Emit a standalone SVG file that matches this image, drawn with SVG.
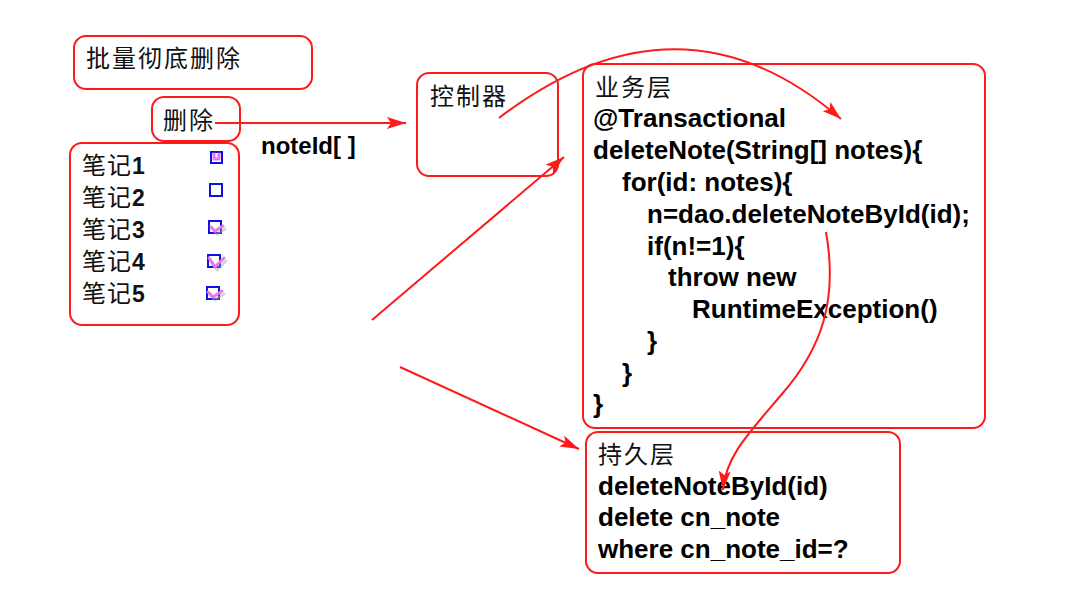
<svg xmlns="http://www.w3.org/2000/svg" width="1073" height="591" viewBox="0 0 1073 591">
<style>
.box{fill:none;stroke:#ff1a1a;stroke-width:2}
.cn{font-family:"Noto Sans CJK SC","Noto Sans",sans-serif;font-size:24px;fill:#111;letter-spacing:2px}
.code{font-family:"Liberation Sans",Arial,sans-serif;font-size:26px;font-weight:bold;fill:#000}
.num{font-family:"Liberation Sans",Arial,sans-serif;font-size:23px;font-weight:bold;fill:#111;letter-spacing:0}
.cb{fill:#fff;stroke:#1010e0;stroke-width:2}
.chk{fill:none;stroke:#e87ae8;stroke-width:3;stroke-linecap:round;stroke-linejoin:round}
.shd{fill:none;stroke:#aaa;stroke-width:3;stroke-linecap:round;stroke-linejoin:round;opacity:0.5}
.conn{fill:none;stroke:#ff1a1a;stroke-width:2}
</style>
<defs>
<marker id="ah" markerUnits="userSpaceOnUse" markerWidth="20" markerHeight="12" refX="19" refY="6" orient="auto">
<path d="M0,0 L19,6 L0,12 L4,6 z" fill="#ff1a1a"/>
</marker>
</defs>
<rect width="1073" height="591" fill="#fff"/>

<g id="title">
<rect class="box" x="74" y="36" width="238" height="53" rx="12"/>
<text class="cn" x="86" y="67">批量彻底删除</text>
</g>

<g id="delete-btn">
<rect class="box" x="152" y="97" width="88" height="44" rx="12"/>
<text class="cn" x="163" y="129">删除</text>
</g>

<g id="notes-list">
<rect class="box" x="70" y="143" width="169" height="182" rx="12"/>
<text class="cn" x="82" y="174" style="letter-spacing:1px">笔记<tspan class="num">1</tspan></text>
<text class="cn" x="82" y="206" style="letter-spacing:1px">笔记<tspan class="num">2</tspan></text>
<text class="cn" x="82" y="238" style="letter-spacing:1px">笔记<tspan class="num">3</tspan></text>
<text class="cn" x="82" y="270" style="letter-spacing:1px">笔记<tspan class="num">4</tspan></text>
<text class="cn" x="82" y="302" style="letter-spacing:1px">笔记<tspan class="num">5</tspan></text>
<rect class="cb" x="211" y="152" width="11" height="11"/>
<path class="chk" d="M214,154 L214,159 L219,159 L219,154"/>
<rect class="cb" x="210" y="184" width="12" height="12"/>
<rect class="cb" x="209" y="221" width="12" height="12"/>
<path class="shd" d="M213,230 L217,234 L225,229"/>
<path class="chk" d="M211,227 L215,231 L223,226"/>
<rect class="cb" x="208" y="255" width="12" height="12"/>
<path class="shd" d="M211,261 L217,270 L226,261"/>
<path class="chk" d="M209,258 L215,267 L224,258"/>
<rect class="cb" x="207" y="287" width="12" height="12"/>
<path class="shd" d="M210,295 L215,300 L224,294"/>
<path class="chk" d="M208,292 L213,297 L222,291"/>
</g>

<g id="noteid-label">
<text class="code" x="261" y="154" style="font-size:24px">noteId[ ]</text>
</g>

<g id="controller">
<rect class="box" x="417" y="73" width="141" height="103" rx="12"/>
<text class="cn" x="430" y="105">控制器</text>
</g>

<g id="service">
<rect class="box" x="583" y="64" width="402" height="364" rx="12"/>
<text class="cn" x="595" y="96">业务层</text>
<text class="code" x="593" y="127">@Transactional</text>
<text class="code" x="593" y="159">deleteNote(String[] notes){</text>
<text class="code" x="622" y="191">for(id: notes){</text>
<text class="code" x="647" y="223">n=dao.deleteNoteById(id);</text>
<text class="code" x="647" y="255">if(n!=1){</text>
<text class="code" x="668" y="286">throw new</text>
<text class="code" x="692" y="318">RuntimeException()</text>
<text class="code" x="647" y="350">}</text>
<text class="code" x="622" y="382">}</text>
<text class="code" x="593" y="413">}</text>
</g>

<g id="dao">
<rect class="box" x="586" y="432" width="314" height="141" rx="12"/>
<text class="cn" x="598" y="463">持久层</text>
<text class="code" x="598" y="495">deleteNoteById(id)</text>
<text class="code" x="598" y="526">delete cn_note</text>
<text class="code" x="598" y="558">where cn_note_id=?</text>
</g>

<g id="connectors">
<path class="conn" d="M215,123 L406,123" marker-end="url(#ah)"/>
<path class="conn" d="M499,118 Q680,-20 841,119" marker-end="url(#ah)"/>
<path class="conn" d="M372,320 L564,157" marker-end="url(#ah)"/>
<path class="conn" d="M400,367 L579,449" marker-end="url(#ah)"/>
<path class="conn" d="M826,232 C838,300 822,348 782,394 C748,434 726,456 723,490" marker-end="url(#ah)"/>
</g>
</svg>
